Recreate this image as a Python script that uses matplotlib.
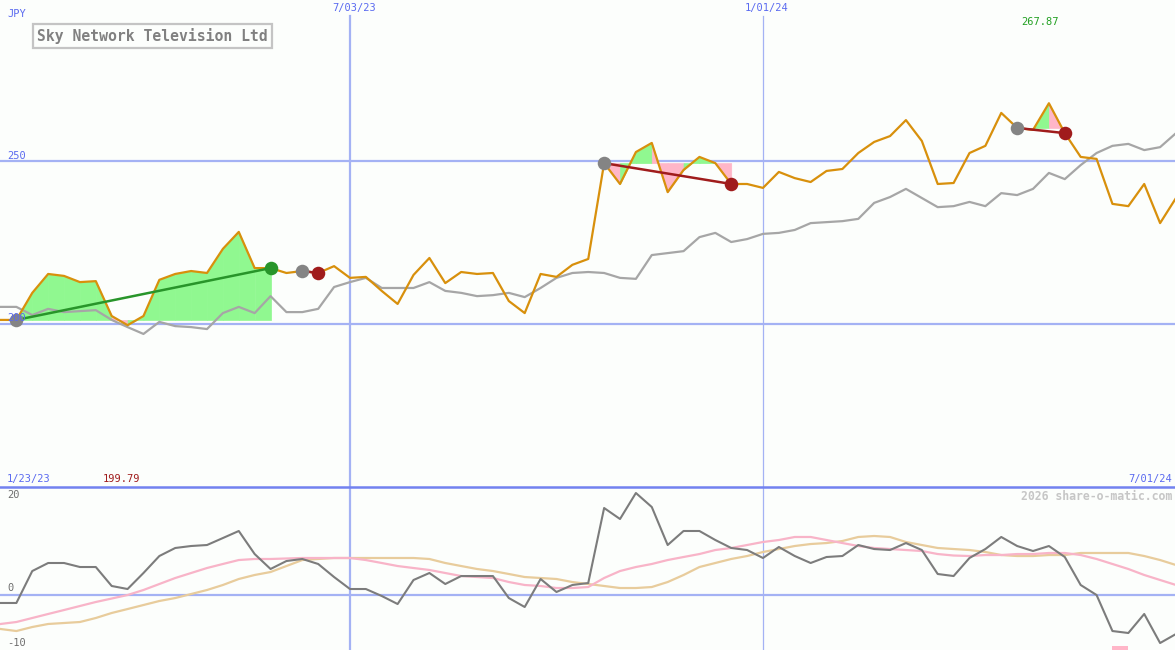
import numpy as np
import pandas as pd
import matplotlib
matplotlib.use("Agg")
import matplotlib.pyplot as plt
from matplotlib.lines import Line2D

# weekly closes, JPY (first point 30 Jan 2023)
price = [201.4, 201.4, 209.7, 215.5, 214.9, 213.0, 213.3, 202.6, 199.79, 202.6,
         213.7, 215.5, 216.4, 215.8, 223.2, 228.4, 217.3, 217.3, 215.8, 216.4,
         215.8, 217.9, 214.3, 214.6, 210.3, 206.3, 215.2, 220.4, 212.7, 216.1,
         215.5, 215.8, 207.2, 203.5, 215.5, 214.6, 218.3, 220.1, 249.5, 243.1,
         252.9, 255.7, 240.6, 247.4, 251.4, 249.5, 243.1, 243.1, 241.9, 246.8,
         244.9, 243.7, 247.1, 247.7, 252.6, 256.0, 257.8, 262.7, 256.3, 243.1,
         243.4, 252.6, 254.8, 264.9, 260.3, 259.7, 267.87, 258.7, 251.4, 250.8,
         237.0, 236.3, 243.1, 231.1, 238.8]

# market index, rescaled to the price
index = [205.4, 205.4, 202.9, 204.8, 203.8, 204.1, 204.4, 201.4, 199.2, 197.1,
         200.8, 199.5, 199.2, 198.6, 203.5, 205.4, 203.5, 208.7, 203.8, 203.8,
         204.8, 211.5, 213.0, 214.3, 211.2, 211.2, 211.2, 213.0, 210.3, 209.7,
         208.7, 209.0, 209.7, 208.4, 211.2, 214.3, 215.8, 216.1, 215.8, 214.3,
         214.0, 221.3, 221.9, 222.5, 226.8, 228.1, 225.3, 226.2, 227.8, 228.1,
         229.0, 231.1, 231.4, 231.7, 232.4, 237.3, 239.1, 241.6, 238.8, 236.0,
         236.3, 237.6, 236.3, 240.3, 239.7, 241.6, 246.5, 244.6, 248.9, 252.6,
         254.8, 255.4, 253.5, 254.4, 258.7]

# lower panel
momentum = [-1.45, -1.45, 4.36, 5.82, 5.82, 5.09, 5.09, 1.64, 1.09, 4.0,
            7.09, 8.55, 8.91, 9.09, 10.36, 11.64, 7.45, 4.73, 6.18, 6.55,
            5.64, 3.27, 1.09, 1.09, -0.18, -1.64, 2.73, 4.0, 2.0, 3.45,
            3.45, 3.45, -0.55, -2.18, 2.91, 0.55, 1.82, 2.18, 15.82, 13.82,
            18.55, 16.0, 9.09, 11.64, 11.64, 10.0, 8.55, 8.18, 6.73, 8.73,
            7.09, 5.82, 6.91, 7.09, 9.09, 8.36, 8.18, 9.45, 8.18, 3.82,
            3.45, 6.73, 8.36, 10.55, 8.91, 8.0, 8.91, 6.91, 1.82, 0.0,
            -6.55, -6.91, -3.45, -8.73, -7.09]
avg_fast = [-5.27, -4.91, -4.18, -3.45, -2.73, -2.0, -1.27, -0.64, 0.0, 0.91,
            2.0, 3.09, 4.0, 4.91, 5.64, 6.36, 6.55, 6.55, 6.64, 6.73,
            6.73, 6.73, 6.73, 6.36, 5.82, 5.27, 4.91, 4.55, 4.0, 3.45,
            3.27, 3.09, 2.36, 1.82, 1.64, 1.27, 1.27, 1.45, 3.09, 4.36,
            5.09, 5.64, 6.36, 6.91, 7.45, 8.18, 8.55, 9.09, 9.64, 10.0,
            10.55, 10.55, 10.0, 9.45, 8.91, 8.55, 8.36, 8.18, 8.0, 7.45,
            7.18, 7.09, 7.27, 7.27, 7.45, 7.45, 7.64, 7.64, 7.27, 6.55,
            5.64, 4.73, 3.64, 2.73, 1.82]
avg_slow = [-6.18, -6.55, -5.82, -5.27, -5.09, -4.91, -4.18, -3.27, -2.55, -1.82,
            -1.09, -0.55, 0.18, 0.91, 1.82, 2.91, 3.64, 4.18, 5.27, 6.36,
            6.55, 6.73, 6.73, 6.73, 6.73, 6.73, 6.73, 6.55, 5.82, 5.27,
            4.73, 4.36, 3.82, 3.27, 3.09, 2.91, 2.36, 2.0, 1.64, 1.27,
            1.27, 1.45, 2.36, 3.64, 5.09, 5.82, 6.55, 7.09, 7.82, 8.36,
            8.91, 9.27, 9.45, 9.82, 10.55, 10.73, 10.55, 9.64, 9.09, 8.55,
            8.36, 8.18, 7.82, 7.27, 7.09, 7.09, 7.27, 7.27, 7.64, 7.64,
            7.64, 7.64, 7.09, 6.36, 5.45]

# trades: start week, end week, won?
trades = [(1, 17, True), (19, 20, False), (38, 46, False), (64, 67, False)]
signal_weeks = [70]

name = "Sky Network Television Ltd"
dates = pd.date_range("2023-01-30", periods=len(price), freq="7D")
marked = ["2023-07-03", "2024-01-01"]


def fmt(d):
    return f"{d.month}/{d.day:02d}/{d.year % 100:02d}"


W, H = 1175, 650
bg = "#fcfefc"
blue = "#5a6af0"
grid = "#a4b2f4"
mono = "DejaVu Sans Mono"
green_fill = "#90f890"
pink_fill = "#ffb6c8"

x = np.arange(len(price))
x_lo, x_hi = -0.5 / 15.885, (W - 0.5) / 15.885

fig = plt.figure(figsize=(11.75, 6.5), dpi=100)
fig.patch.set_facecolor(bg)
ax = fig.add_axes([0, 163 / H, 1, 487 / H])
ax2 = fig.add_axes([0, 0, 1, 163 / H])
for a in (ax, ax2):
    a.axis("off")
    a.set_xlim(x_lo, x_hi)
ax.set_ylim(150.15, 299.54)
ax2.set_ylim(-10, 19.64)

# grid
for lvl in (250, 200):
    ax.axhline(lvl, color=grid, lw=1.6, zorder=0)
ax2.axhline(0, color=grid, lw=1.6, zorder=0)
for j, m in enumerate(marked):
    k = int(np.where(dates == pd.Timestamp(m))[0][0])
    lw = 1.6 if j == 0 else 0.9
    ax.axvline(k, ymax=1 - 16 / 487, color=grid, lw=lw, zorder=0)
    ax2.axvline(k, color=grid, lw=lw, zorder=0)
    fig.text((0.5 + 15.885 * k + 4) / W, 1 - 8 / H, fmt(dates[k]), color=blue,
             fontsize=7.5, family=mono, ha="center", va="center")
fig.add_artist(Line2D([0, 1], [163 / H, 163 / H], color="#7282f0", lw=1.8,
                      transform=fig.transFigure))

# trade shading, each step coloured by where it ends vs the entry price
for s, e, won in trades:
    base = price[s]
    for i in range(s, e):
        col = green_fill if price[i + 1] >= base else pink_fill
        ax.fill_between([x[i], x[i + 1]], [price[i], price[i + 1]], base,
                        color=col, lw=0.5, zorder=1)

ax.plot(x, index, color="#a6a6a6", lw=1.6, zorder=2)
ax.plot(x, price, color="#d8900c", lw=1.6, zorder=3)

for s, e, won in trades:
    col = "#28952a" if won else "#a01c1c"
    ax.plot([x[s], x[e]], [price[s], price[e]], color=col, lw=1.8, zorder=4)
    ax.scatter([x[s]], [price[s]], s=95, color="#848484", zorder=5, lw=0)
    ax.scatter([x[e]], [price[e]], s=95, color=col, zorder=5, lw=0)

# lower panel
ax2.plot(x, avg_slow, color="#e8cc9c", lw=1.6, zorder=2)
ax2.plot(x, avg_fast, color="#f8b4c8", lw=1.6, zorder=3)
ax2.plot(x, momentum, color="#7c7c7c", lw=1.5, zorder=4)
ax2.bar(signal_weeks, [0.7] * len(signal_weeks), bottom=-10, width=0.95,
        align="edge", color=pink_fill, zorder=2)


def label(px, py, s, **kw):
    kw.setdefault("fontsize", 7.5)
    kw.setdefault("family", mono)
    kw.setdefault("va", "center")
    fig.text(px / W, 1 - py / H, s, **kw)


label(7, 14, "JPY", color=blue)
label(7, 156, "250", color=blue)
label(7, 318, "200", color=blue, zorder=0)
imax = int(np.argmax(price))
imin = int(np.argmin(price))
label(1040, 22, f"{price[imax]:.2f}", color="#22a022", ha="center")
label(7, 479, fmt(dates[0] - pd.Timedelta(days=7)), color=blue)
label(103, 479, f"{price[imin]:.2f}", color="#a01c1c")
label(1172, 479, fmt(dates[-1]), color=blue, ha="right")
label(1172, 496, "2026 share-o-matic.com", color="#c6c6c6", ha="right",
      fontsize=8.3, weight="bold")
label(7, 495, "20", color="#6e6e6e")
label(7, 588, "0", color="#6e6e6e")
label(7, 643, "-10", color="#6e6e6e")
label(37, 36, name, color="#808080", fontsize=10.6, weight="bold",
      bbox=dict(boxstyle="square,pad=0.28", fc="none", ec="#c4c4c4", lw=1.6))

fig.savefig("out.png", dpi=100, facecolor=bg)
